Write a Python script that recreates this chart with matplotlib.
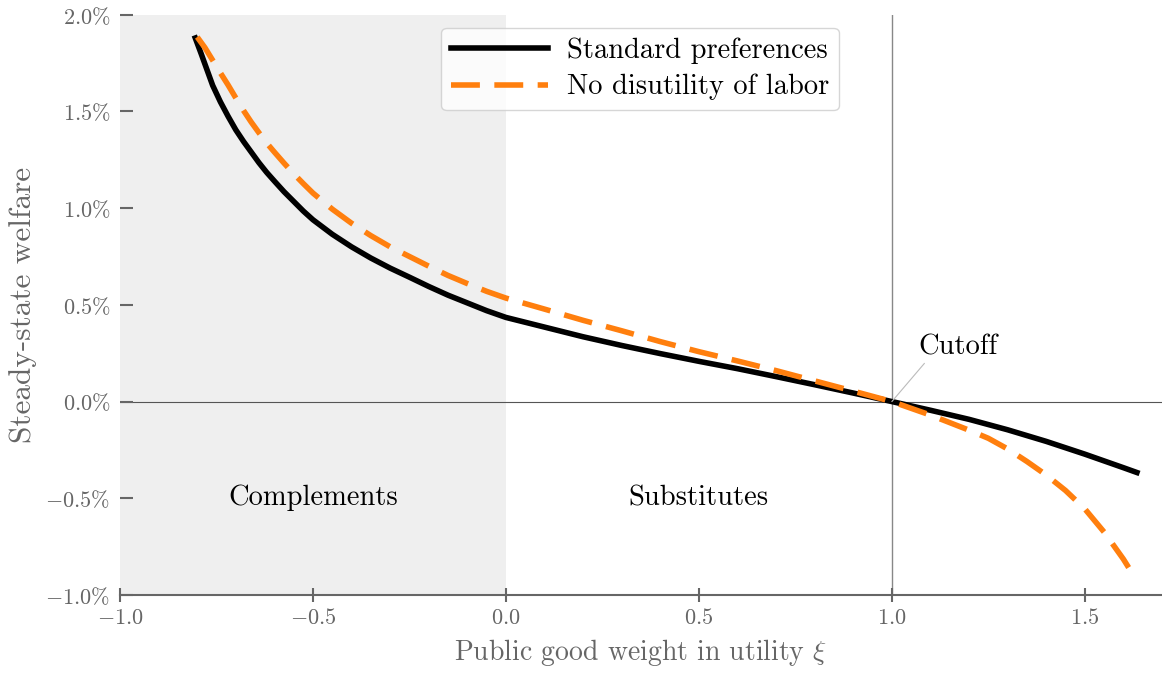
import matplotlib
matplotlib.use("Agg")
import matplotlib.pyplot as plt

plt.rcParams["font.family"] = ["cmr10", "DejaVu Serif"]
plt.rcParams["mathtext.fontset"] = "cm"
plt.rcParams["axes.formatter.use_mathtext"] = True

# Steady-state welfare change (%) against the public good weight xi
xi = [-0.805, -0.79, -0.78, -0.77, -0.76, -0.74, -0.72, -0.70, -0.68, -0.66,
      -0.64, -0.62, -0.60, -0.575, -0.55, -0.525, -0.50, -0.45, -0.40, -0.35,
      -0.30, -0.25, -0.20, -0.15, -0.10, -0.05, 0.00, 0.10, 0.20, 0.30,
      0.40, 0.50, 0.60, 0.70, 0.80, 0.90, 1.00, 1.10, 1.20, 1.30,
      1.40, 1.50, 1.60, 1.635]
welfare_standard = [1.88, 1.80, 1.745, 1.69, 1.635, 1.55, 1.475, 1.405, 1.345, 1.29,
                    1.235, 1.185, 1.14, 1.085, 1.035, 0.985, 0.94, 0.865, 0.80, 0.742,
                    0.69, 0.643, 0.595, 0.55, 0.51, 0.47, 0.435, 0.385, 0.335, 0.29,
                    0.248, 0.208, 0.17, 0.129, 0.087, 0.044, 0.0, -0.045, -0.092, -0.146,
                    -0.206, -0.272, -0.342, -0.367]

xi_nolabor = [-0.80, -0.78, -0.76, -0.74, -0.72, -0.70, -0.68, -0.66, -0.64, -0.62,
              -0.60, -0.575, -0.55, -0.525, -0.50, -0.45, -0.40, -0.35, -0.30, -0.25,
              -0.20, -0.15, -0.10, -0.05, 0.00, 0.10, 0.20, 0.30, 0.40, 0.50,
              0.60, 0.70, 0.80, 0.90, 1.00, 1.10, 1.20, 1.25, 1.30, 1.35,
              1.40, 1.45, 1.50, 1.55, 1.60, 1.625]
welfare_nolabor = [1.885, 1.83, 1.765, 1.70, 1.637, 1.57, 1.505, 1.445, 1.39, 1.337,
                   1.29, 1.233, 1.178, 1.127, 1.078, 0.995, 0.922, 0.858, 0.80, 0.75,
                   0.70, 0.652, 0.61, 0.57, 0.535, 0.478, 0.42, 0.366, 0.31, 0.258,
                   0.21, 0.16, 0.107, 0.054, 0.0, -0.07, -0.148, -0.19, -0.245, -0.31,
                   -0.38, -0.46, -0.555, -0.675, -0.815, -0.895]

xticks = [-1.0, -0.5, 0.0, 0.5, 1.0, 1.5]
xtick_labels = [r"$-1.0$", r"$-0.5$", r"$0.0$", r"$0.5$", r"$1.0$", r"$1.5$"]
yticks = [-1.0, -0.5, 0.0, 0.5, 1.0, 1.5, 2.0]
ytick_labels = [r"$-1.0\%$", r"$-0.5\%$", r"$0.0\%$", r"$0.5\%$",
                r"$1.0\%$", r"$1.5\%$", r"$2.0\%$"]

grey = "#666666"

fig = plt.figure(figsize=(11.62, 6.73), dpi=100)
ax = fig.add_axes([0.1033, 0.116, 0.8967, 0.862])

# complements region shading
ax.axvspan(-1.0, 0.0, color="#efefef", zorder=0, lw=0)
ax.axhline(0, color="#555555", lw=0.8, zorder=1)
ax.axvline(1.0, color="#888888", lw=1.0, zorder=1)

ax.plot(xi, welfare_standard, color="black", lw=4.0,
        label="Standard preferences", zorder=3, solid_joinstyle="round")
ax.plot(xi_nolabor, welfare_nolabor, color="#ff7f0e", lw=4.0,
        dashes=(5.2, 2.6), label="No disutility of labor", zorder=4)

ax.text(-0.5, -0.5, "Complements", ha="center", va="center", fontsize=20.5)
ax.text(0.5, -0.5, "Substitutes", ha="center", va="center", fontsize=20.5)
ax.annotate("Cutoff", xy=(1.0, 0.0), xytext=(1.07, 0.28), fontsize=20.5,
            va="center", ha="left",
            arrowprops=dict(arrowstyle="-", color="#bbbbbb", lw=0.8,
                            shrinkA=0, shrinkB=0, relpos=(0.1, 0.0)))

ax.set_xlim(-1.0, 1.7)
ax.set_ylim(-1.0, 2.0)
ax.set_xticks(xticks)
ax.set_xticklabels(xtick_labels)
ax.set_yticks(yticks)
ax.set_yticklabels(ytick_labels)

for side in ["top", "right", "left"]:
    ax.spines[side].set_visible(False)
ax.spines["bottom"].set_color(grey)
ax.spines["bottom"].set_linewidth(1.5)
ax.tick_params(axis="y", direction="in", length=9.5, width=1.5, colors=grey,
               labelsize=16, pad=7)
ax.tick_params(axis="x", direction="inout", length=9.5, width=1.5, colors=grey,
               labelsize=16, pad=5)

ax.set_xlabel(r"Public good weight in utility $\xi$", fontsize=20, color=grey,
              labelpad=6)
ax.set_ylabel("Steady-state welfare", fontsize=22.5, color=grey, labelpad=6)

leg = ax.legend(loc="upper center", bbox_to_anchor=(0.499, 0.978), fontsize=20.5,
                handlelength=3.4, handletextpad=0.65, frameon=True, fancybox=True,
                borderpad=0.35, labelspacing=0.35, borderaxespad=0)
leg.get_frame().set_edgecolor("#cccccc")
leg.get_frame().set_linewidth(1.0)

fig.savefig("out.png", dpi=100)
